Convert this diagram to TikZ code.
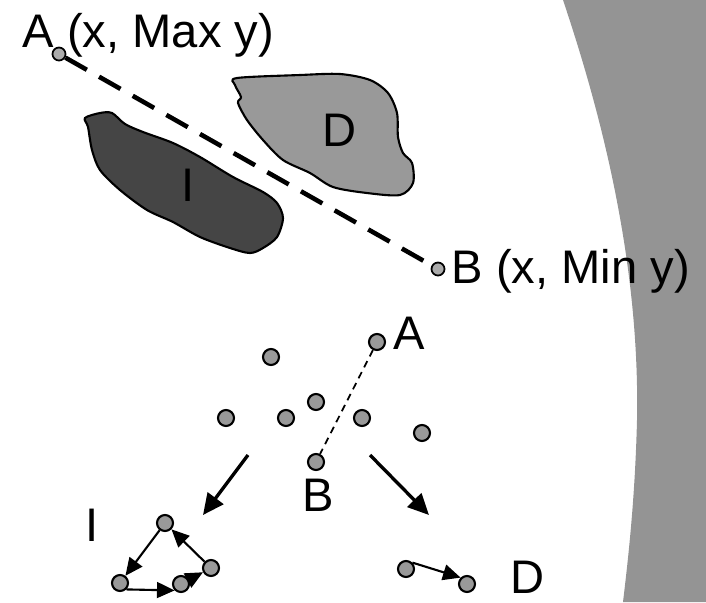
\documentclass[tikz,border=0pt]{standalone}
\usepackage{fontspec}
\setmainfont{Liberation Sans}
\usetikzlibrary{arrows.meta,calc}

\begin{document}
\begin{tikzpicture}[x=0.01cm,y=-0.01cm,
	pt/.style={circle,draw,line width=0.6pt,fill=black!40,inner sep=0pt,minimum size=0.16cm},
	endpt/.style={circle,draw,line width=0.5pt,fill=black!33,inner sep=0pt,minimum size=0.13cm},
	lbl/.style={inner sep=0pt,font=\fontsize{13.4}{16}\selectfont},
	bigarrow/.style={line width=0.95pt,-{Triangle[length=6pt,width=5.5pt]}},
	smallarrow/.style={line width=0.6pt,-{Triangle[length=5pt,width=4.5pt]}}]
				\useasboundingbox (0,0) rectangle (706,602);
				% band on the right
				\fill[black!42] (563,0) .. controls (600,110) and (640,260) .. (637,420) .. controls (635,500) and (628,560) .. (623,602) -- (706,602) -- (706,0) -- cycle;
				% regions I and D
				\filldraw[fill=black!73,line width=0.6pt] plot[smooth cycle,tension=0.5] coordinates {(85,118) (100,113) (112,113) (125,124) (143,132) (173,143) (200,157) (233,177) (263,192) (277,203) (283,218) (277,237) (263,248) (250,253) (230,248) (200,237) (173,222) (147,210) (120,190) (100,170) (92,150) (88,127)};
				\filldraw[fill=black!40,line width=0.6pt] plot[smooth cycle,tension=0.5] coordinates {(237,78) (300,75) (340,74) (370,80) (388,93) (397,113) (398,137) (403,153) (412,163) (413,183) (400,195) (367,193) (333,187) (310,173) (283,160) (263,140) (247,120) (238,103) (241,97) (235,85)};
				\node[lbl] (Itop) at (188,185) {I};
				\node[lbl] (Dtop) at (340,130) {D};
				% split line
				\node[endpt] (A) at (59,54) {};
				\node[endpt] (B) at (438,269) {};
				\draw[line width=1.3pt,dash pattern=on 7pt off 4pt] (A) -- (B);
				\node[lbl,anchor=base west] (Alab) at (22,47) {A (x, Max y)};
				\node[lbl,anchor=base west] (Blab) at (451,283) {B (x, Min y)};
				% point set
				\node[pt] (a) at (377,342) {}; %A
				\node[pt] (p1) at (271,357) {};
				\node[pt] (p2) at (226,418) {};
				\node[pt] (p3) at (286,418) {};
				\node[pt] (p4) at (316,402) {};
				\node[pt] (p5) at (362,418) {};
				\node[pt] (p6) at (422,433) {};
				\node[pt] (b) at (316,462) {}; %B
				\node[lbl] (alab) at (409,333) {A};
				\node[lbl] (blab) at (318,495) {B};
				\draw[line width=0.5pt,dash pattern=on 2pt off 1.5pt] (a) -- (b);
				% recurse on both sides
				\coordinate (lstart) at (248,455);
				\coordinate (lend) at (203,515);
				\coordinate (rstart) at (370,455);
				\coordinate (rend) at (429,515);
				\draw[bigarrow] (lstart) -- (lend);
				\draw[bigarrow] (rstart) -- (rend);
				% hull of I
				\node[pt] (i1) at (165,523) {};
				\node[pt] (i2) at (120,583) {};
				\node[pt] (i3) at (181,584) {};
				\node[pt] (i4) at (211,568) {};
				\draw[smallarrow] (i1) -- (i2);
				\draw[smallarrow] (i2.south east) -- (i3.south west);
				\draw[smallarrow] (i3) -- (i4);
				\draw[smallarrow] (i4) -- (i1);
				\node[lbl] (ibot) at (92,525) {I};
				% hull of D
				\node[pt] (d1) at (406,569) {};
				\node[pt] (d2) at (467,584) {};
				\draw[smallarrow] (d1.north east) -- (d2.north west);
				\node[lbl] (dbot) at (528,577) {D};
\end{tikzpicture}
\end{document}
